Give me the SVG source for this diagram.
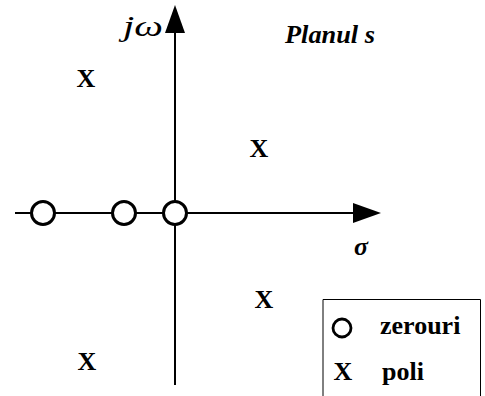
<svg xmlns="http://www.w3.org/2000/svg" width="485" height="396" viewBox="0 0 485 396">
<style>
.ax{stroke:#000;stroke-width:2;fill:none}
.zero{fill:#fff;stroke:#000;stroke-width:3}
.serif{font-family:"Liberation Serif","Times New Roman","DejaVu Serif",serif;fill:#000}
.pole{font-weight:bold;font-size:26px;text-anchor:middle}
.lbl{font-weight:bold;font-size:26px}
</style>
<rect width="485" height="396" fill="#fff"/>
<g id="axes">
<line class="ax" x1="15" y1="213" x2="360" y2="213"/>
<polygon points="381,213 353,203 353,223" fill="#000"/>
<line class="ax" x1="175" y1="385" x2="175" y2="28"/>
<polygon points="175,5 165,33 185,33" fill="#000"/>
</g>
<g id="labels">
<text class="serif" x="123" y="36" font-style="italic" font-size="30" textLength="40" lengthAdjust="spacingAndGlyphs">jω</text>
<text class="serif" x="285" y="43" font-style="italic" font-weight="bold" font-size="26" textLength="90" lengthAdjust="spacingAndGlyphs">Planul s</text>
<text class="serif" x="354" y="255" font-style="italic" font-weight="bold" font-size="26">σ</text>
</g>
<g id="zeros">
<circle class="zero" cx="43" cy="213" r="11.5"/>
<circle class="zero" cx="124" cy="213" r="11.5"/>
<circle class="zero" cx="175" cy="213" r="11.5"/>
</g>
<g id="poles">
<text class="serif pole" x="86" y="87">X</text>
<text class="serif pole" x="259" y="157">X</text>
<text class="serif pole" x="264" y="308">X</text>
<text class="serif pole" x="87" y="370">X</text>
</g>
<g id="legend">
<path d="M323,396 V299.5 H480.5 V396" fill="none" stroke="#000" stroke-width="1"/>
<circle cx="342" cy="328" r="9" fill="none" stroke="#000" stroke-width="2.8"/>
<text class="serif lbl" x="380" y="334">zerouri</text>
<text class="serif lbl" x="343" y="380" font-size="23" text-anchor="middle">X</text>
<text class="serif lbl" x="382" y="380">poli</text>
</g>
</svg>
